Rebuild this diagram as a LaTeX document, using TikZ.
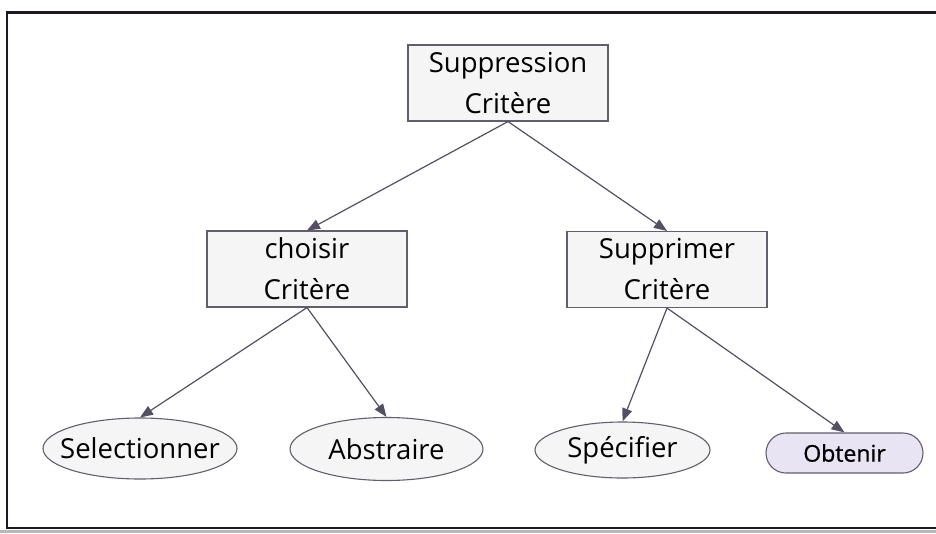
\documentclass[tikz,border=0pt]{standalone}
\usepackage{fontspec}
\setmainfont{Open Sans}
\usetikzlibrary{arrows.meta,shapes.geometric}
\definecolor{framecol}{HTML}{1E1824}
\definecolor{boxfill}{HTML}{F5F5F6}
\definecolor{boxline}{HTML}{625E6C}
\definecolor{linkcol}{HTML}{554F63}
\definecolor{pillfill}{HTML}{E8E4F4}
\newcommand{\zw}[1]{\makebox[0pt]{#1}}
\tikzset{
  bigtext/.style={font=\fontsize{27.5}{41}\selectfont},
  taskbox/.style={draw=boxline, line width=1.1pt, fill=boxfill, rectangle,
    minimum width=200pt, minimum height=76pt, inner sep=0pt, align=center, bigtext},
  leaf/.style={draw=boxline, line width=1.1pt, fill=boxfill, ellipse,
    inner sep=0pt, bigtext},
  pill/.style={draw=boxline, line width=1.1pt, fill=pillfill, rectangle,
    rounded corners=20pt, minimum width=157pt, minimum height=40pt, inner sep=0pt,
    font=\fontsize{23}{26}\selectfont\addfontfeature{FakeBold=0.8}},
  link/.style={draw=linkcol, line width=1.2pt,
    -{Triangle[length=13pt,width=10pt,fill=linkcol]}},
}
\begin{document}
\begin{tikzpicture}[x=1pt,y=-1pt]
  \useasboundingbox (0,0) rectangle (936,533);
  \fill[white] (0,0) rectangle (936,533);
  % outer frame and the grey strip under it
  \fill[gray!55] (0,529.5) rectangle (936,533);
  \draw[framecol, line width=2.6pt] (940,12.5) -- (7,12.5) -- (7,528) -- (940,528);

  % task hierarchy
  \node[taskbox] (root) at (508,83) {Suppression\\Critère};
  \node[taskbox] (choisir) at (307,269) {choisir\\Critère};
  \node[taskbox] (supprimer) at (667,269.5) {Supprimer\\Critère};

  \node[leaf, minimum width=194pt, minimum height=61pt] (sel) at (140,448.5) {\zw{Selectionner}};
  \node[leaf, minimum width=193pt, minimum height=63pt] (abs) at (386.5,449) {\zw{Abstraire}};
  \node[leaf, minimum width=175pt, minimum height=56pt] (spec) at (622.5,450) {\zw{Spécifier}};
  \node[pill] (obt) at (844.5,453) {Obtenir};

  \draw[link] (root.south) -- (choisir.north);
  \draw[link] (root.south) -- (supprimer.north);
  \draw[link] (choisir.south) -- (sel.north);
  \draw[link] (choisir.south) -- (abs.north);
  \draw[link] (supprimer.south) -- (spec.north);
  \draw[link] (supprimer.south) -- (obt.north);
\end{tikzpicture}
\end{document}
